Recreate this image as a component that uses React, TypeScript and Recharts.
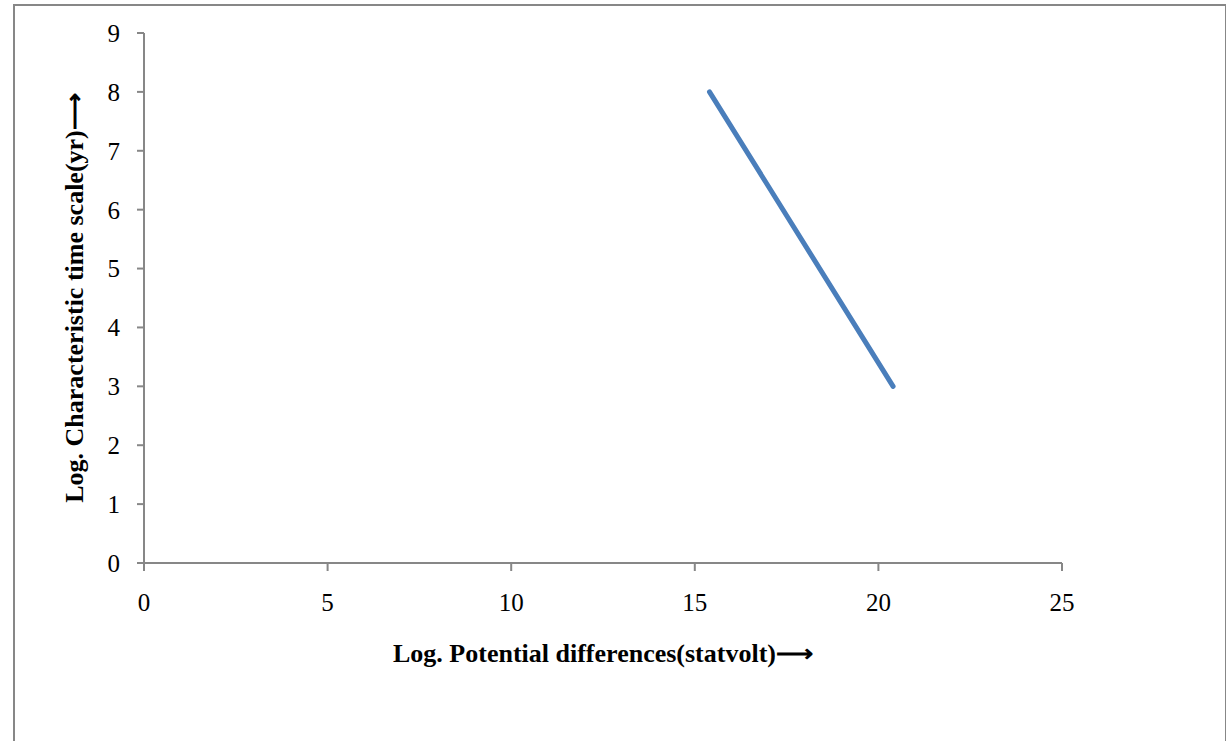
import React from 'react';
import { LineChart, Line, XAxis, YAxis, Label } from 'recharts';

const potential = [15.4, 20.4];
const timeScale = [8, 3];
const xTicks = [0, 5, 10, 15, 20, 25];
const yTicks = [0, 1, 2, 3, 4, 5, 6, 7, 8, 9];

const data = potential.map((x, i) => ({ x, y: timeScale[i] }));

const FONT = '"Liberation Serif", "Times New Roman", serif';
const AXIS = '#878787';

export default function App() {
  return (
    <div style={{ position: 'absolute', left: 0, top: 0, width: 1226, height: 741, overflow: 'hidden', background: '#fff' }}>
      <div style={{ position: 'absolute', left: 13, top: 4, width: 1210, height: 800, borderLeft: `2px solid ${AXIS}`, borderTop: `2px solid ${AXIS}`, borderRight: `2px solid ${AXIS}` }} />
      <div style={{ position: 'absolute', left: 0, top: 0 }}>
        <LineChart width={1226} height={741} data={data} margin={{ top: 33, right: 164, bottom: 0, left: 0 }}>
          <XAxis
            dataKey="x"
            type="number"
            domain={[0, 25]}
            ticks={xTicks}
            height={178}
            stroke={AXIS}
            strokeWidth={2}
            tickSize={8}
            tickMargin={22}
            tick={{ fill: '#000', fontSize: 25, fontFamily: FONT }}
          >
            <Label
              content={(props: any) => {
                const vb = props.viewBox;
                return (
                  <text x={vb.x + vb.width / 2} y={662} textAnchor="middle" fontFamily={FONT} fontWeight="bold" fontSize={26} fill="#000">
                    Log. Potential differences(statvolt)⟶
                  </text>
                );
              }}
            />
          </XAxis>
          <YAxis
            dataKey="y"
            type="number"
            domain={[0, 9]}
            ticks={yTicks}
            width={144}
            stroke={AXIS}
            strokeWidth={2}
            tickSize={7}
            tickMargin={17}
            tick={{ fill: '#000', fontSize: 25, fontFamily: FONT }}
          >
            <Label
              content={(props: any) => {
                const vb = props.viewBox;
                const cy = vb.y + vb.height / 2;
                return (
                  <text x={83} y={cy} transform={`rotate(-90, 83, ${cy})`} textAnchor="middle" fontFamily={FONT} fontWeight="bold" fontSize={26} fill="#000">
                    Log. Characteristic time scale(yr)⟶
                  </text>
                );
              }}
            />
          </YAxis>
          <Line
            dataKey="y"
            stroke="#4A7EBB"
            strokeWidth={5}
            strokeLinecap="round"
            dot={false}
            activeDot={false}
            isAnimationActive={false}
          />
        </LineChart>
      </div>
    </div>
  );
}
